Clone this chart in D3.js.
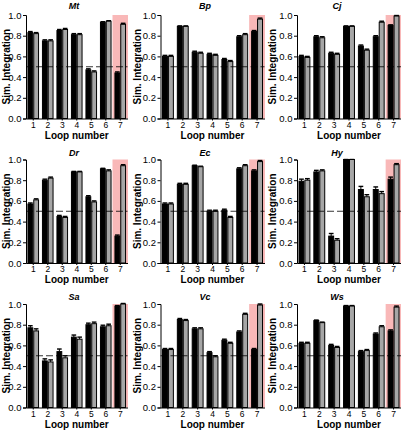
<!DOCTYPE html>
<html><head><meta charset="utf-8">
<script src="https://cdn.jsdelivr.net/npm/d3@7"></script>
<style>
html,body{margin:0;padding:0;background:#fff;}
svg{display:block;font-family:"Liberation Sans",Arial,sans-serif;}
</style></head>
<body><svg id="chart" width="401" height="432"></svg>
<script>
const panels = ["Mt","Bp","Cj","Dr","Ec","Hy","Sa","Vc","Ws"];
const loops = [1,2,3,4,5,6,7];
const yTicks = [0,0.2,0.4,0.6,0.8,1.0];
const highlightLoop = 7;
const refLevel = 0.5;

const blackValues = [
  [0.83,0.75,0.85,0.81,0.47,0.93,0.44],
  [0.60,0.89,0.64,0.62,0.57,0.79,0.84],
  [0.60,0.79,0.63,0.89,0.70,0.79,0.90],
  [0.57,0.80,0.45,0.88,0.64,0.91,0.26],
  [0.57,0.76,0.94,0.50,0.51,0.91,0.89],
  [0.79,0.88,0.26,1.00,0.71,0.71,0.81],
  [0.77,0.45,0.54,0.68,0.80,0.78,0.98],
  [0.56,0.85,0.76,0.53,0.65,0.73,0.56],
  [0.62,0.84,0.60,0.98,0.54,0.71,0.74]
];
const greyValues = [
  [0.82,0.75,0.86,0.81,0.45,0.94,0.91],
  [0.60,0.89,0.63,0.61,0.55,0.81,0.96],
  [0.59,0.78,0.62,0.89,0.66,0.93,0.99],
  [0.61,0.82,0.44,0.88,0.59,0.89,0.94],
  [0.57,0.76,0.93,0.50,0.44,0.94,0.98],
  [0.80,0.89,0.22,1.00,0.64,0.67,0.95],
  [0.74,0.44,0.48,0.66,0.81,0.79,1.00],
  [0.56,0.84,0.76,0.49,0.62,0.90,0.99],
  [0.62,0.82,0.58,0.98,0.55,0.78,0.97]
];
const blackErrors = [
  [0.01,0.01,0.01,0.01,0.01,0.005,0.01],
  [0.01,0.005,0.01,0.01,0.01,0.01,0.01],
  [0.01,0.01,0.01,0.005,0.01,0.01,0.005],
  [0.01,0.01,0.01,0.005,0.01,0.005,0.01],
  [0.01,0.01,0.005,0.01,0.01,0.01,0.01],
  [0.02,0.015,0.025,0.0,0.03,0.025,0.02],
  [0.02,0.02,0.025,0.02,0.015,0.015,0.005],
  [0.01,0.01,0.01,0.01,0.01,0.01,0.01],
  [0.01,0.005,0.01,0.005,0.01,0.01,0.01]
];
const greyErrors = [
  [0.01,0.01,0.01,0.01,0.01,0.005,0.01],
  [0.01,0.005,0.01,0.01,0.01,0.01,0.01],
  [0.01,0.01,0.01,0.005,0.01,0.01,0.005],
  [0.01,0.01,0.01,0.005,0.01,0.01,0.01],
  [0.01,0.01,0.005,0.01,0.01,0.01,0.01],
  [0.015,0.01,0.015,0.0,0.02,0.02,0.01],
  [0.02,0.02,0.02,0.02,0.015,0.015,0.005],
  [0.01,0.01,0.01,0.01,0.01,0.01,0.01],
  [0.01,0.005,0.01,0.005,0.01,0.01,0.01]
];

// layout
const colLeft = [26, 160.5, 297];
const colWidth = [101.5, 104, 104];
const rowTop = [15, 159.5, 304];
const rowBottom = [118.5, 263, 407.5];
const titleX = [74, 205, 337];
const titleY = [9, 156, 300];
const ylabelX = [6, 137, 272];

const svg = d3.select("#chart");
const BLACK = "#000", GREY = "#a6a6a6", PINK = "#f9b8b8";

panels.forEach((name, i) => {
  const c = i % 3, r = Math.floor(i / 3);
  const g = svg.append("g").attr("transform", `translate(${colLeft[c]},0)`);
  const w = colWidth[c];
  const y = d3.scaleLinear().domain([0, 1]).range([rowBottom[r], rowTop[r]]);
  const x = d3.scaleBand().domain(loops).range([0, w]).paddingInner(0.2).paddingOuter(0.1);
  const xs = d3.scaleBand().domain(["black","grey"]).range([0, x.bandwidth()]);

  // highlight
  const hx0 = x(highlightLoop) - x.step() * x.paddingInner() / 2 - 0.5;
  g.append("rect").attr("x", hx0).attr("y", y(1))
    .attr("width", w - hx0 + 0.5).attr("height", y(0) - y(1)).attr("fill", PINK);

  const data = loops.map((l, k) => ({loop: l,
    vals: [{s: "black", v: blackValues[i][k], e: blackErrors[i][k]},
           {s: "grey", v: greyValues[i][k], e: greyErrors[i][k]}]}));

  const grp = g.selectAll("g.grp").data(data).enter().append("g")
    .attr("transform", d => `translate(${x(d.loop)},0)`);
  // error bars
  grp.selectAll("g.err").data(d => d.vals).enter().append("g").each(function(d) {
    const cx = xs(d.s) + xs.bandwidth() / 2;
    const sel = d3.select(this);
    sel.append("line").attr("x1", cx).attr("x2", cx).attr("y1", y(d.v)).attr("y2", y(d.v + d.e))
      .attr("stroke", BLACK).attr("stroke-width", 1);
    sel.append("line").attr("x1", cx - xs.bandwidth() * 0.4).attr("x2", cx + xs.bandwidth() * 0.4)
      .attr("y1", y(d.v + d.e)).attr("y2", y(d.v + d.e))
      .attr("stroke", BLACK).attr("stroke-width", 1.4);
  });
  grp.selectAll("rect").data(d => d.vals).enter().append("rect")
    .attr("x", d => xs(d.s) + 0.5).attr("width", xs.bandwidth() - 1)
    .attr("y", d => y(d.v)).attr("height", d => y(0) - y(d.v))
    .attr("fill", d => d.s === "black" ? BLACK : GREY)
    .attr("stroke", BLACK).attr("stroke-width", 1);

  // reference line
  g.append("line").attr("x1", 0).attr("x2", w).attr("y1", y(refLevel)).attr("y2", y(refLevel))
    .attr("stroke", BLACK).attr("stroke-width", 0.8).attr("stroke-dasharray", "7,3");

  // axes
  const ya = g.append("g").call(d3.axisLeft(y).tickValues(yTicks).tickFormat(d3.format(".1f")).tickSize(3).tickPadding(1.5));
  ya.selectAll("text").attr("font-size", "9.5px").attr("fill", "#000").attr("font-family", "Liberation Sans, Arial, sans-serif");
  ya.selectAll("line,path").attr("stroke", "#000");
  const xa = g.append("g").attr("transform", `translate(0,${y(0)})`)
    .call(d3.axisBottom(x).tickSize(2).tickPadding(1).tickSizeOuter(0));
  xa.selectAll("text").attr("font-size", "8.5px").attr("fill", "#000").attr("font-family", "Liberation Sans, Arial, sans-serif");
  xa.selectAll("line,path").attr("stroke", "#000");

  // labels
  svg.append("text").attr("x", titleX[c]).attr("y", titleY[r]).attr("text-anchor", "middle")
    .attr("font-size", "9px").attr("font-weight", "bold").attr("font-style", "italic").text(name);
  svg.append("text").attr("x", colLeft[c] + w / 2).attr("y", y(0) + 20).attr("text-anchor", "middle")
    .attr("font-size", "10px").attr("font-weight", "bold").text("Loop number");
  svg.append("text").attr("transform", `translate(${ylabelX[c]},${(y(0) + y(1)) / 2}) rotate(-90)`)
    .attr("text-anchor", "middle").attr("dy", "0.35em")
    .attr("font-size", "10px").attr("font-weight", "bold").text("Sim. Integration");
});
</script></body></html>
